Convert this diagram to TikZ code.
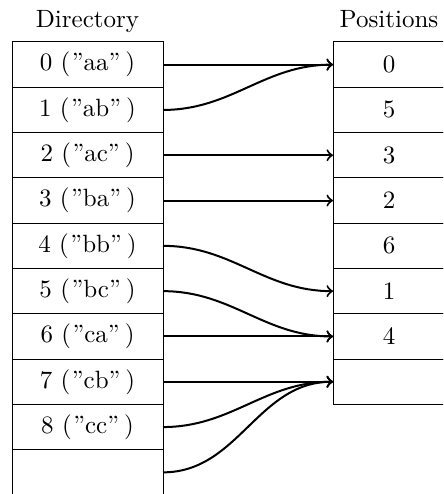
\documentclass[tikz,border=0pt]{standalone}
\usepackage{tikz}
\usetikzlibrary{positioning}

% index with its quoted key, as printed in the directory cells
\newcommand{\dkey}[2]{#1 (\kern0.6pt”#2”\kern2pt)}

\begin{document}
\begin{tikzpicture}[
  every node/.style={align=center},
  dircell/.style={draw,outer sep=0pt,inner sep=0pt,minimum width=60.4pt,
              minimum height=18.12pt},
  poscell/.style={draw,outer sep=0pt,inner sep=0pt,minimum width=44.8pt,
              minimum height=18.12pt},
  title/.style={anchor=base},
  link/.style={->,thick},
]
% --- frame (the picture is cut at its right and bottom edge)
\useasboundingbox (0,0) rectangle (177.2pt,-197.6pt);
\clip (0,0) rectangle (177.2pt,-197.6pt);

% --- directory column
\node[dircell] (d0) at (35pt,-25.86pt) {\dkey{0}{aa}};
\node[dircell,below=0pt of d0] (d1) {\dkey{1}{ab}};
\node[dircell,below=0pt of d1] (d2) {\dkey{2}{ac}};
\node[dircell,below=0pt of d2] (d3) {\dkey{3}{ba}};
\node[dircell,below=0pt of d3] (d4) {\dkey{4}{bb}};
\node[dircell,below=0pt of d4] (d5) {\dkey{5}{bc}};
\node[dircell,below=0pt of d5] (d6) {\dkey{6}{ca}};
\node[dircell,below=0pt of d6] (d7) {\dkey{7}{cb}};
\node[dircell,below=0pt of d7] (d8) {\dkey{8}{cc}};
\node[dircell,below=0pt of d8] (d9) {};

% --- positions column
\node[poscell] (p0) at (155.6pt,-25.86pt) {0};
\node[poscell,below=0pt of p0] (p1) {5};
\node[poscell,below=0pt of p1] (p2) {3};
\node[poscell,below=0pt of p2] (p3) {2};
\node[poscell,below=0pt of p3] (p4) {6};
\node[poscell,below=0pt of p4] (p5) {1};
\node[poscell,below=0pt of p5] (p6) {4};
\node[poscell,below=0pt of p6] (p7) {};

% --- titles
\node[above=5.6pt of d0.north,title] (dirtitle) {Directory};
\node[above=5.6pt of p0.north,title] (postitle) {Positions};

% --- links
\draw[link] (d0.east) to[out=0,in=180] (p0.west);
\draw[link] (d1.east) to[out=0,in=180] (p0.west);
\draw[link] (d2.east) to[out=0,in=180] (p2.west);
\draw[link] (d3.east) to[out=0,in=180] (p3.west);
\draw[link] (d4.east) to[out=0,in=180] (p5.west);
\draw[link] (d5.east) to[out=0,in=180] (p6.west);
\draw[link] (d6.east) to[out=0,in=180] (p6.west);
\draw[link] (d7.east) to[out=0,in=180] (p7.west);
\draw[link] (d8.east) to[out=0,in=180] (p7.west);
\draw[link] (d9.east) to[out=0,in=180] (p7.west);

\end{tikzpicture}
\end{document}
